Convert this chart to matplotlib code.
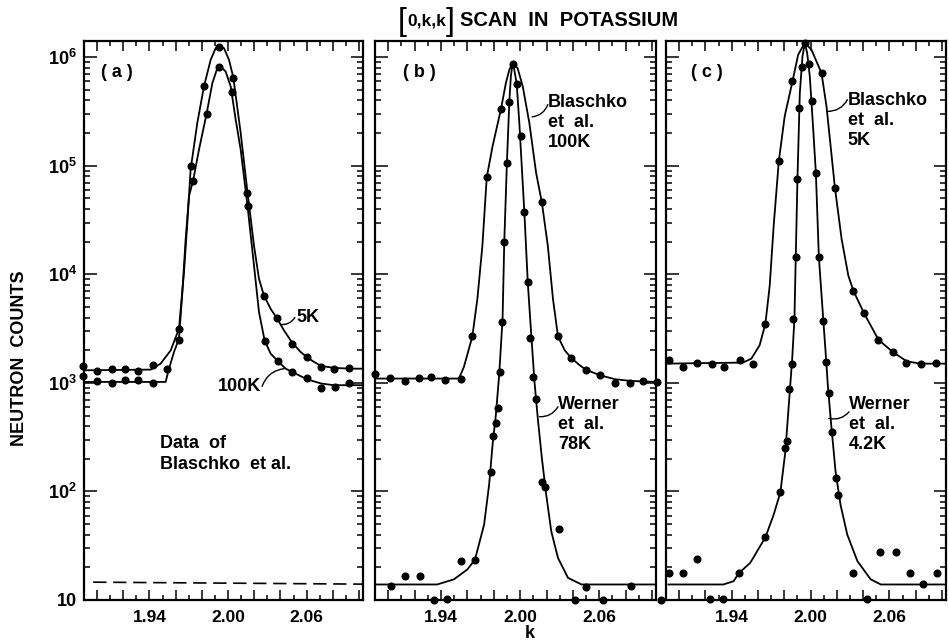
from matplotlib import pyplot as plt
from matplotlib.ticker import LogLocator, FixedLocator, MultipleLocator, NullFormatter

plt.rcParams['font.family'] = ['Liberation Sans', 'DejaVu Sans']
plt.rcParams['font.weight'] = 'bold'
plt.rcParams['mathtext.fontset'] = 'custom'
plt.rcParams['mathtext.rm'] = 'Liberation Sans:bold'
plt.rcParams['mathtext.bf'] = 'Liberation Sans:bold'
plt.rcParams['mathtext.default'] = 'bf'

# ---- panel (a): data of Blaschko et al.
a5_k = [1.889, 1.900, 1.911, 1.921, 1.931, 1.943, 1.9625, 1.9714, 1.9816, 1.993, 2.004, 2.0147,
        2.0274, 2.0376, 2.049, 2.060, 2.071, 2.081, 2.092]
a5_n = [1420, 1290, 1330, 1330, 1290, 1450, 3150, 1.0e5, 5.4e5, 1.25e6, 6.5e5, 5.65e4,
        6370, 3950, 2300, 1730, 1400, 1350, 1380]
a100_k = [1.889, 1.900, 1.911, 1.921, 1.931, 1.943, 1.953, 1.9625, 1.9735, 1.9836, 1.993, 2.003,
          2.015, 2.028, 2.038, 2.049, 2.060, 2.071, 2.082, 2.092]
a100_n = [1160, 1040, 990, 1060, 1060, 990, 1350, 2460, 7.3e4, 3.0e5, 8.2e5, 4.8e5,
          4.26e4, 2430, 1580, 1260, 1100, 900, 920, 1000]

a5c_k = [1.890, 1.9409, 1.9485, 1.9562, 1.9625, 1.9663, 1.9689, 1.9714, 1.9765, 1.9816, 1.9867,
         1.9905, 1.9931, 1.9969, 2.0007, 2.0040, 2.0096, 2.0147, 2.0198, 2.0236, 2.0274, 2.0325,
         2.0376, 2.0427, 2.0490, 2.0554, 2.0600, 2.0656, 2.0712, 2.0808, 2.0936, 2.1037]
a5c_n = [1306, 1325, 1504, 1994, 3150, 1.04e4, 3.0e4, 9.25e4, 2.48e5, 5.38e5, 9.46e5,
         1.21e6, 1.27e6, 1.21e6, 9.46e5, 6.5e5, 2.01e5, 5.86e4, 1.83e4, 9060, 6370, 4810,
         3890, 3040, 2340, 1925, 1733, 1560, 1432, 1374, 1352, 1352]
a100c_k = [1.890, 1.9523, 1.9549, 1.9587, 1.9625, 1.9651, 1.9676, 1.9702, 1.9735, 1.9778, 1.9836,
           1.9880, 1.9918, 1.9943, 1.9981, 2.0020, 2.0058, 2.0096, 2.0147, 2.0198, 2.0236, 2.0279,
           2.0325, 2.0381, 2.0439, 2.0490, 2.0600, 2.0712, 2.0808, 2.0936, 2.1037]
a100c_n = [1020, 1020, 1352, 1925, 2550, 6840, 2.11e4, 5.27e4, 7.5e4, 1.41e5, 3.02e5,
           5.77e5, 7.93e5, 8.2e5, 7.39e5, 5.38e5, 2.66e5, 1.41e5, 4.42e4, 1.2e4, 4480, 2460,
           1858, 1581, 1352, 1262, 1081, 986, 952, 952, 952]
dash_k = [1.897, 2.103]
dash_n = [14.6, 14.0]

# ---- panel (b): Blaschko 100K and Werner 78K
bB_k = [1.890, 1.9015, 1.9124, 1.9231, 1.9325, 1.9434, 1.9549, 1.9638, 1.9747, 1.9854, 1.9943,
        2.0165, 2.0287, 2.0389, 2.0498, 2.0605, 2.0719, 2.0834, 2.0931, 2.1037]
bB_n = [1220, 1110, 1040, 1100, 1135, 1060, 1080, 2680, 7.9e4, 3.3e5, 8.7e5,
        4.6e4, 2680, 1690, 1325, 1190, 990, 990, 1040, 1020]
bW_k = [1.902, 1.913, 1.924, 1.9345, 1.9447, 1.9554, 1.9658, 1.9778, 1.9795, 1.9816, 1.9829,
        1.9847, 1.9860, 1.988, 1.990, 1.9918, 1.9974, 2.0007, 2.0032, 2.0058, 2.0076, 2.0101,
        2.0121, 2.0165, 2.019, 2.0292, 2.0414, 2.0503, 2.0631, 2.0841, 2.107]
bW_n = [13.4, 16.6, 16.6, 9.9, 10.3, 22.8, 23.6, 152, 324, 430, 581,
        1262, 3630, 2.0e4, 1.07e5, 3.86e5, 5.69e5, 1.87e5, 3.76e4, 8450, 2610, 1135,
        708, 122, 109, 45, 9.9, 13.2, 9.9, 13.6, 9.9]

bBc_k = [1.890, 1.9536, 1.9574, 1.9638, 1.9676, 1.9714, 1.9747, 1.9791, 1.9854, 1.9892, 1.9918,
         1.9943, 1.9981, 2.0020, 2.0070, 2.0121, 2.0165, 2.0210, 2.0249, 2.0287, 2.0338, 2.0389,
         2.0452, 2.0498, 2.0605, 2.0719, 2.0834, 2.1037]
bBc_n = [1096, 1096, 1403, 2680, 5940, 1.83e4, 7.8e4, 1.51e5, 3.29e5, 5.77e5, 7.66e5,
         8.8e5, 7.93e5, 5.38e5, 2.48e5, 8.63e4, 4.58e4, 1.83e4, 5940, 2680, 1995, 1690,
         1452, 1325, 1175, 1081, 1043, 1020]
bWc_k = [1.8913, 1.9371, 1.9498, 1.9600, 1.9658, 1.9727, 1.9765, 1.9791, 1.9816, 1.9841, 1.9867,
         1.988, 1.990, 1.9918, 1.9930, 1.9943, 1.9956, 1.9974, 1.9994, 2.0032, 2.0058, 2.0083,
         2.0109, 2.0134, 2.0165, 2.0198, 2.0236, 2.0287, 2.0363, 2.0465, 2.1025]
bWc_n = [13.9, 13.9, 15.5, 19.1, 23.6, 49.5, 115, 268, 505, 1175, 3890,
         2.01e4, 1.07e5, 3.86e5, 6.7e5, 8.8e5, 7.65e5, 5.69e5, 2.48e5, 3.76e4, 8450, 2940,
         1021, 471, 202, 93, 43, 24.4, 16, 13.9, 13.9]

# ---- panel (c): Blaschko 5K and Werner 4.2K
cB_k = [1.8920, 1.9032, 1.9137, 1.9249, 1.9345, 1.9465, 1.9562, 1.9656, 1.9758, 1.9862, 1.9956,
        2.0083, 2.0185, 2.0325, 2.0406, 2.0516, 2.0625, 2.0727, 2.0839, 2.0956]
cB_n = [1614, 1403, 1538, 1504, 1403, 1614, 1504, 3500, 1.10e5, 5.98e5, 1.36e6,
        7.13e5, 6.28e4, 7080, 4390, 2500, 1925, 1538, 1504, 1538]
cW_k = [1.8925, 1.9032, 1.9139, 1.9231, 1.9333, 1.9457, 1.9656, 1.9770, 1.9803, 1.9821, 1.9839,
        1.9860, 1.9867, 1.9887, 1.9900, 1.9913, 1.9933, 1.9989, 2.0007, 2.0040, 2.0063, 2.0091,
        2.0116, 2.0142, 2.0160, 2.0190, 2.0211, 2.0325, 2.0427, 2.0526, 2.0648, 2.0757, 2.0856,
        2.0963]
cW_n = [17.8, 17.8, 24.0, 10.3, 10.3, 17.8, 37.8, 98, 250, 291, 873,
        1500, 3890, 1.43e4, 7.6e4, 3.4e5, 8.1e5, 8.7e5, 3.92e5, 8.63e4, 1.43e4, 3680,
        1560, 805, 355, 134, 93, 17.6, 10.3, 27.4, 27.4, 17.6, 14, 17.6]

cBc_k = [1.890, 1.9485, 1.9549, 1.9612, 1.9656, 1.9689, 1.9719, 1.9758, 1.9803, 1.9862, 1.9905,
         1.9956, 2.0007, 2.0083, 2.0121, 2.0185, 2.0236, 2.0287, 2.0325, 2.0406, 2.0516, 2.0625,
         2.0732, 2.0834, 2.1037]
cBc_n = [1504, 1538, 1670, 2218, 3500, 7870, 2.79e4, 1.10e5, 2.86e5, 5.98e5, 1.05e6,
         1.36e6, 1.17e6, 7.13e5, 3.52e5, 6.28e4, 2.11e4, 9730, 7080, 4390, 2500, 1925,
         1580, 1504, 1504]
cWc_k = [1.8918, 1.9337, 1.9414, 1.9457, 1.9541, 1.9656, 1.9719, 1.9770, 1.9808, 1.9834, 1.9860,
         1.9877, 1.9887, 1.9900, 1.9918, 1.9938, 1.9956, 1.9974, 1.9994, 2.0020, 2.0040, 2.0063,
         2.0096, 2.0114, 2.0131, 2.0157, 2.0190, 2.0228, 2.0279, 2.0356, 2.0457, 2.0534, 2.1043]
cWc_n = [13.9, 13.9, 14.9, 17.8, 22, 37.8, 61, 98, 233, 624, 1670,
         3890, 1.43e4, 7.6e4, 4.68e5, 1.01e6, 1.35e6, 1.09e6, 6.65e5, 2.15e5, 8.63e4, 1.43e4,
         3890, 1925, 950, 408, 152, 75, 40, 22.8, 15.5, 13.9, 13.9]

k_long = [1.90, 1.92, 1.94, 1.96, 1.98, 2.00, 2.02, 2.04, 2.06, 2.08, 2.10]
k_labeled = [1.94, 2.00, 2.06]
y_ticks = [10, 1e2, 1e3, 1e4, 1e5, 1e6]
y_labels = ['10', r'$10^2$', r'$10^3$', r'$10^4$', r'$10^5$', r'$10^6$']

W, H = 949, 641
FS = 13
fig = plt.figure(figsize=(W / 100, H / 100), dpi=100)


def make_axes(left, right, top=41, bottom=600):
    return fig.add_axes([left / W, 1 - bottom / H, (right - left) / W, (bottom - top) / H])


def setup(ax, first):
    ax.set_yscale('log')
    ax.set_xlim(1.890, 2.103)
    ax.set_ylim(10, 1.41e6)
    for s in ax.spines.values():
        s.set_linewidth(1.6)
    ax.xaxis.set_major_locator(FixedLocator(k_long))
    ax.xaxis.set_minor_locator(MultipleLocator(0.01))
    ax.set_xticklabels(['%.2f' % v if round(v, 2) in k_labeled else '' for v in k_long])
    ax.yaxis.set_major_locator(FixedLocator(y_ticks))
    ax.yaxis.set_minor_locator(LogLocator(base=10, subs=range(2, 10)))
    ax.yaxis.set_minor_formatter(NullFormatter())
    if first:
        ax.set_yticklabels(y_labels)
    else:
        ax.set_yticklabels([])
    ax.tick_params(which='both', direction='in', top=True, right=True, width=1.1)
    ax.tick_params(axis='x', which='major', length=7, pad=7, labelsize=12.5)
    ax.tick_params(axis='x', which='minor', length=3.5)
    ax.tick_params(axis='y', which='major', length=9, pad=5, labelsize=13)
    ax.tick_params(axis='y', which='minor', length=4.5)


def dots(ax, k, n):
    ax.plot(k, n, 'o', color='black', ms=4.8, clip_on=False, zorder=3)


def curve(ax, k, n):
    ax.plot(k, n, '-', color='black', lw=1.3)


def leader(ax, p0, p1):
    ax.annotate('', xy=p0, xytext=p1,
                arrowprops=dict(arrowstyle='-', lw=1.0, color='black',
                                connectionstyle='arc3,rad=-0.3', shrinkA=0, shrinkB=0))


axa = make_axes(84, 363)
axb = make_axes(375, 656)
axc = make_axes(666, 946)
setup(axa, True)
setup(axb, False)
setup(axc, False)

# (a)
curve(axa, a5c_k, a5c_n)
curve(axa, a100c_k, a100c_n)
dots(axa, a5_k, a5_n)
dots(axa, a100_k, a100_n)
axa.plot(dash_k, dash_n, color='black', lw=1.2, ls=(0, (8, 4)))
axa.text(1.903, 7.2e5, '( a )', fontsize=FS, va='center')
axa.text(2.052, 4000, '5K', fontsize=FS, va='center')
leader(axa, (2.040, 3450), (2.051, 4000))
axa.text(2.0255, 925, '100K', fontsize=FS, va='center', ha='right')
leader(axa, (2.0427, 1352), (2.026, 930))
axa.text(1.948, 330, 'Data  of\nBlaschko  et al.', fontsize=FS, va='top', linespacing=1.3)

# (b)
curve(axb, bBc_k, bBc_n)
curve(axb, bWc_k, bWc_n)
dots(axb, bB_k, bB_n)
dots(axb, bW_k, bW_n)
axb.text(1.911, 7.2e5, '( b )', fontsize=FS, va='center')
axb.text(2.0213, 4.6e5, 'Blaschko\net  al.\n100K', fontsize=FS, va='top', linespacing=1.22)
leader(axb, (2.0091, 2.82e5), (2.021, 3.66e5))
axb.text(2.0289, 760, 'Werner\net  al.\n78K', fontsize=FS, va='top', linespacing=1.22)
leader(axb, (2.0147, 488), (2.0287, 603))

# (c)
curve(axc, cBc_k, cBc_n)
curve(axc, cWc_k, cWc_n)
dots(axc, cB_k, cB_n)
dots(axc, cW_k, cW_n)
axc.text(1.909, 7.2e5, '( c )', fontsize=FS, va='center')
axc.text(2.0282, 4.8e5, 'Blaschko\net  al.\n5K', fontsize=FS, va='top', linespacing=1.22)
leader(axc, (2.0126, 3.17e5), (2.028, 4.06e5))
axc.text(2.029, 760, 'Werner\net  al.\n4.2K', fontsize=FS, va='top', linespacing=1.22)
leader(axc, (2.0139, 471), (2.0292, 541))

# title and axis labels
fig.text(398 / W, 1 - 22 / H, '[', fontsize=23, weight='normal', va='center', ha='left')
fig.text(407 / W, 1 - 21 / H, '0,k,k', fontsize=12.5, va='center', ha='left')
fig.text(446 / W, 1 - 22 / H, ']', fontsize=23, weight='normal', va='center', ha='left')
fig.text(460 / W, 1 - 21 / H, 'SCAN  IN  POTASSIUM', fontsize=14.5, va='center', ha='left')
fig.text(20 / W, 1 - 358 / H, 'NEUTRON  COUNTS', fontsize=FS, rotation=90, va='center', ha='center')
fig.text(530 / W, 1 - 633 / H, 'k', fontsize=FS, va='center', ha='center')

fig.savefig('out.png', dpi=100)
